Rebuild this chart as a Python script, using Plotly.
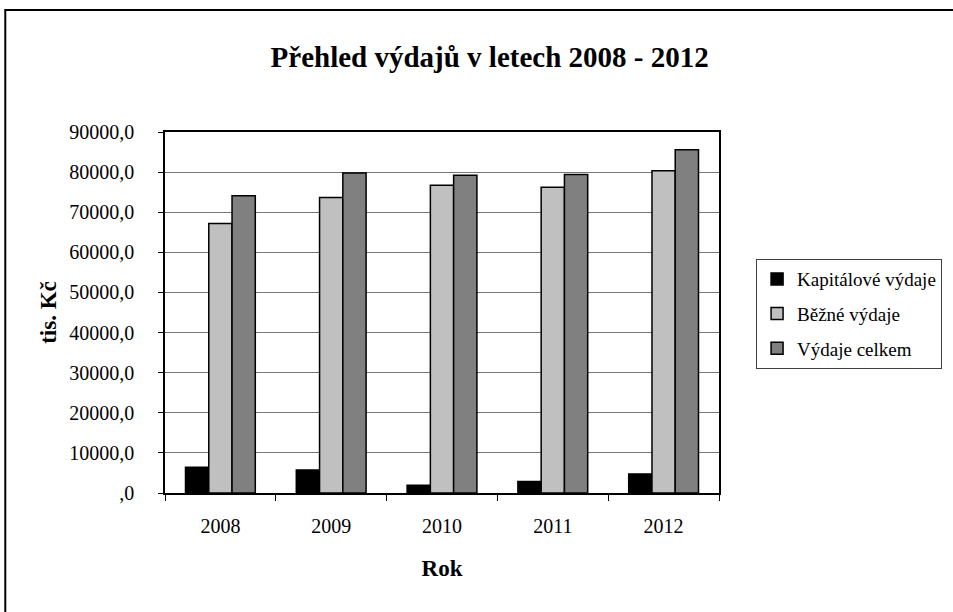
import plotly.graph_objects as go

years = ['2008', '2009', '2010', '2011', '2012']
kapitalove = [6400, 5750, 1950, 2850, 4750]
bezne = [67200, 73700, 76750, 76250, 80350]
celkem = [74100, 79750, 79200, 79400, 85600]

y_ticks = [0, 10000, 20000, 30000, 40000, 50000, 60000, 70000, 80000, 90000]
y_labels = [',0', '10000,0', '20000,0', '30000,0', '40000,0',
            '50000,0', '60000,0', '70000,0', '80000,0', '90000,0']

FONT = 'Liberation Serif'

fig = go.Figure()
series = [('Kapitálové výdaje', kapitalove, '#000000'),
          ('Běžné výdaje', bezne, '#C0C0C0'),
          ('Výdaje celkem', celkem, '#808080')]
for i, (name, vals, col) in enumerate(series):
    fig.add_trace(go.Bar(x=years, y=vals, name=name, legendgroup=str(i),
                         marker=dict(color=col, line=dict(color='black', width=1.5))))

fig.update_layout(
    width=953, height=612,
    margin=dict(l=165, r=233, t=132, b=119),
    paper_bgcolor='white', plot_bgcolor='white',
    font=dict(family=FONT, color='black', size=20),
    barmode='group', bargap=0.37, bargroupgap=0,
    title=dict(text='<b>Přehled výdajů v letech 2008 - 2012</b>',
               font=dict(size=29, family=FONT), x=0.586, xref='paper',
               xanchor='center', y=1 - 57 / 612, yref='container', yanchor='middle'),
    legend=dict(x=1.065, xanchor='left', y=0.648, yanchor='top',
                bordercolor='#404040', borderwidth=1, font=dict(size=19, family=FONT),
                traceorder='grouped', tracegroupgap=7, itemwidth=30),
)

fig.update_xaxes(
    type='category', tickson='boundaries', ticks='outside', ticklen=6,
    tickcolor='black', showline=True, linecolor='black', linewidth=1.5,
    mirror=True, ticklabelstandoff=14,
    title=dict(text='<b>Rok</b>', font=dict(size=23), standoff=24),
)
fig.update_yaxes(
    range=[0, 90000], tickvals=y_ticks, ticktext=y_labels,
    ticks='outside', ticklen=5, tickcolor='black',
    showline=True, linecolor='black', linewidth=1.5, mirror=True,
    showgrid=True, gridcolor='#777777', gridwidth=1,
    ticklabelstandoff=20, zeroline=False,
    title=dict(text='<b>tis. Kč</b>', font=dict(size=23), standoff=6),
)

# outer chart border (runs off the right and bottom edge, as in the source)
fig.add_shape(type='rect', xref='paper', yref='paper',
              x0=(5 - 165) / 555, x1=1.6, y0=(493 - 10) / 361, y1=-0.6,
              line=dict(color='black', width=2), layer='below')

fig.write_html('out.html', config={'displayModeBar': False},
               post_script="document.body.style.margin='0';")
